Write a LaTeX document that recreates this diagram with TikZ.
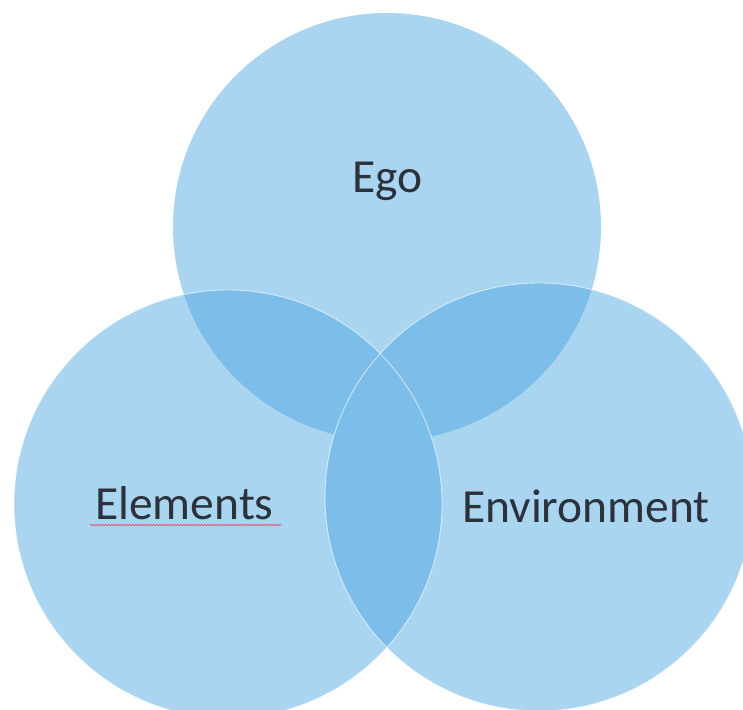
\documentclass[tikz,border=0pt]{standalone}
\usepackage{fontspec}
\setmainfont{Carlito}
\usetikzlibrary{calc,positioning,decorations.pathmorphing}
\definecolor{vennlight}{RGB}{170,213,241}
\definecolor{vennmid}{RGB}{124,189,233}
\definecolor{labgray}{RGB}{44,50,60}
\definecolor{spellred}{RGB}{225,80,125}

\begin{document}
\begin{tikzpicture}[x=1pt,y=1pt,
    venn/.style={circle,minimum size=428pt,inner sep=0pt,fill=vennlight},
    rim/.style={draw=white,draw opacity=0.6,line width=0.9pt},
    lab/.style={font=\fontsize{47.5}{57}\selectfont,text=labgray,inner sep=0pt,anchor=base west}]
    \useasboundingbox (0,0) rectangle (743,709);

    \node[venn] (ego) at (387,482) {};
    \node[venn] (elem) at (228,205) {};
    \node[venn] (env) at (539,212) {};

    \foreach \a/\b in {ego/elem,ego/env,elem/env}
      \fill[vennmid] let \p1=($(\b.center)-(\a.center)$), \n1={atan2(\y1,\x1)},
          \n2={acos(veclen(\x1,\y1)/428)} in
        ($(\a.center)+(\n1+\n2:214pt)$)
        arc[start angle=\n1+\n2,end angle=\n1-\n2,radius=214pt]
        arc[start angle=\n1+180+\n2,end angle=\n1+180-\n2,radius=214pt] -- cycle;
    \foreach \c in {elem,env}
      \path[rim] (\c.center) circle (214pt);

    \node[lab] (egolab) at (352,516) {Ego};
    \node[lab] (elemlab) at (95,189) {Elements};
    \node[lab] (envlab) at (462,186) {Environment};

    \draw[spellred,line width=0.7pt,decoration={snake,amplitude=0.8pt,segment length=3pt},decorate]
      ([xshift=-5pt,yshift=-5pt]elemlab.base west) -- ([xshift=8pt,yshift=-5pt]elemlab.base east);
  \end{tikzpicture}
\end{document}
